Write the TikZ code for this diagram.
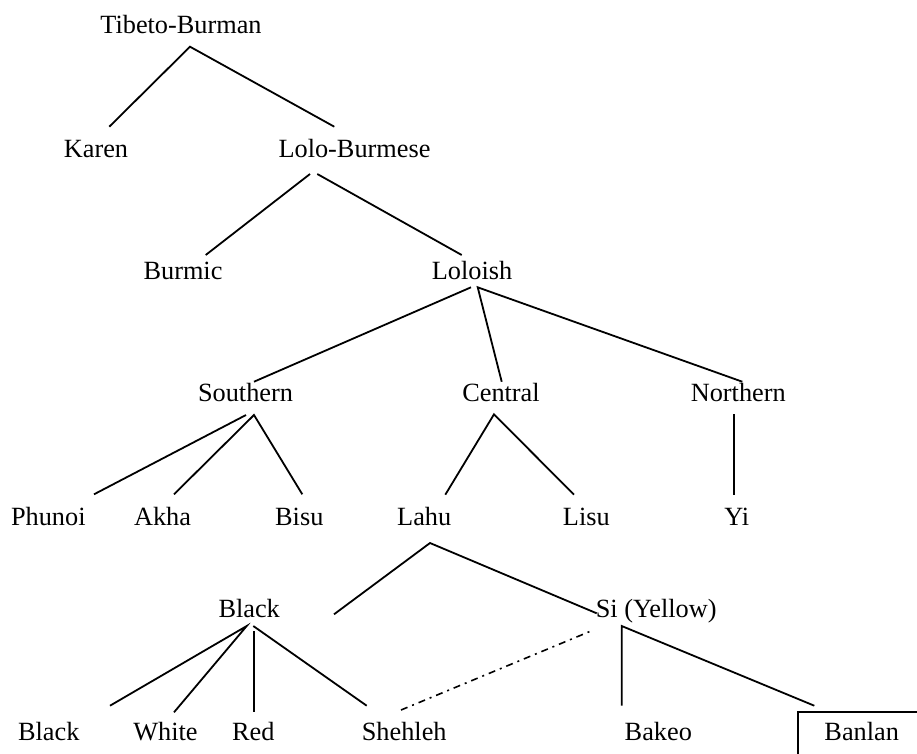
\documentclass[tikz,border=0pt]{standalone}
\usepackage{fontspec}
\setmainfont{Liberation Serif}
\begin{document}
\begin{tikzpicture}[x=1pt,y=-1pt,
  lang/.style={anchor=base,inner sep=0pt,font=\fontsize{26.3}{30}\selectfont},
  edge/.style={line width=1.8pt},
  dotdash/.style={line width=1.6pt,dash pattern=on 7pt off 5pt on 2pt off 5pt}]
\useasboundingbox (0,0) rectangle (917,753);
% nodes
\node[lang] (tb)  at (181,33)    {Tibeto-Burman};
\node[lang] (kar) at (96,157)    {Karen};
\node[lang] (lb)  at (354.5,157) {Lolo-Burmese};
\node[lang] (bur) at (183,279.5) {Burmic};
\node[lang] (lol) at (472,279.5) {Loloish};
\node[lang] (sou) at (245.5,401.7) {Southern};
\node[lang] (cen) at (501,401.7) {Central};
\node[lang] (nor) at (738.3,401.7) {Northern};
\node[lang] (phu) at (48.3,525)  {Phunoi};
\node[lang] (akh) at (162.5,525) {Akha};
\node[lang] (bis) at (299.3,525) {Bisu};
\node[lang] (lah) at (424.2,525) {Lahu};
\node[lang] (lis) at (586.3,525) {Lisu};
\node[lang] (yi)  at (736.8,525) {Yi};
\node[lang] (blk) at (249.2,617) {Black};
\node[lang] (si)  at (656.2,617.5) {Si (Yellow)};
\node[lang] (blkl) at (48.8,740) {Black};
\node[lang] (whi) at (165.5,740) {White};
\node[lang] (red) at (253.3,740) {Red};
\node[lang] (she) at (404.2,740) {Shehleh};
\node[lang] (bak) at (658.3,740) {Bakeo};
\node[lang] (ban) at (861.7,740) {Banlan};
% connectors
\draw[edge] ([shift={(13.3,-30.3)}]kar.base) -- ([shift={(9,13.7)}]tb.base) -- ([shift={(-20.2,-30.3)}]lb.base);
\draw[edge] ([shift={(-44.5,17)}]lb.base) -- ([shift={(22.7,-24.5)}]bur.base);
\draw[edge] ([shift={(-37.2,17)}]lb.base) -- ([shift={(-10.3,-24.5)}]lol.base);
\draw[edge] ([shift={(-1,7.8)}]lol.base) -- ([shift={(8.5,-20)}]sou.base);
\draw[edge] ([shift={(0.7,-20)}]cen.base) -- ([shift={(5.7,7.8)}]lol.base) -- ([shift={(4,-20)}]nor.base);
\draw[edge] ([shift={(0.5,13.3)}]sou.base) -- ([shift={(45.7,-30.7)}]phu.base);
\draw[edge] ([shift={(11.5,-30.7)}]akh.base) -- ([shift={(8.5,13.3)}]sou.base) -- ([shift={(3,-30.7)}]bis.base);
\draw[edge] ([shift={(21.1,-30.3)}]lah.base) -- ([shift={(-7,12.6)}]cen.base) -- ([shift={(-12.3,-30.3)}]lis.base);
\draw[edge] ([shift={(-4.3,12.6)}]nor.base) -- ([shift={(-2.8,-30.3)}]yi.base);
\draw[edge] ([shift={(84.8,-2.7)}]blk.base) -- ([shift={(5.8,18)}]lah.base) -- ([shift={(-59.5,-4.2)}]si.base);
\draw[edge] ([shift={(61.2,-34.3)}]blkl.base) -- ([shift={(-2.5,9)}]blk.base) -- ([shift={(8.5,-27.7)}]whi.base);
\draw[edge] ([shift={(4.8,14)}]blk.base) -- ([shift={(0.7,-27.7)}]red.base);
\draw[edge] ([shift={(4.1,9)}]blk.base) -- ([shift={(-37.5,-34.3)}]she.base);
\draw[dotdash] ([shift={(-3.2,-30)}]she.base) -- ([shift={(-65.2,13.5)}]si.base);
\draw[edge] ([shift={(-36.6,-34.3)}]bak.base) -- ([shift={(-34.5,8.5)}]si.base) -- ([shift={(-47.4,-34.3)}]ban.base);
\draw[line width=1.6pt] ([shift={(60,-28.3)}]ban.base) -- ([shift={(-64,-28.3)}]ban.base) -- ([shift={(-64,20)}]ban.base);
\end{tikzpicture}
\end{document}
